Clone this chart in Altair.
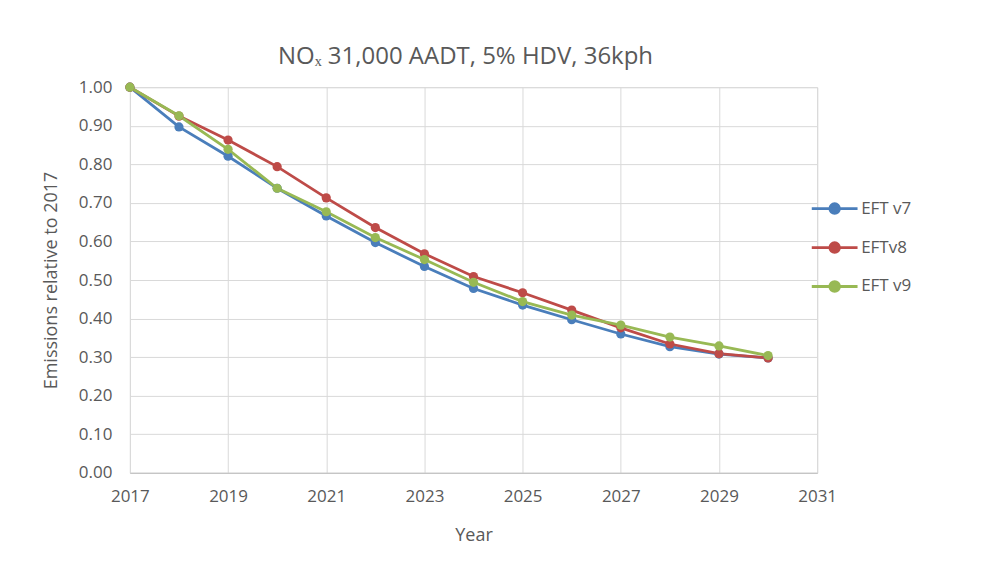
import altair as alt
import pandas as pd

years = list(range(2017, 2031))
eft_v7 = [1.00, 0.897, 0.821, 0.738, 0.666, 0.597, 0.535, 0.478, 0.435, 0.397, 0.360, 0.327, 0.308, 0.298]
eft_v8 = [1.00, 0.925, 0.863, 0.794, 0.713, 0.636, 0.568, 0.509, 0.467, 0.422, 0.376, 0.334, 0.309, 0.298]
eft_v9 = [1.00, 0.926, 0.839, 0.738, 0.677, 0.610, 0.553, 0.494, 0.444, 0.409, 0.383, 0.352, 0.329, 0.304]
series = ["EFT v7", "EFTv8", "EFT v9"]
colors = ["#4A7EBB", "#BE4B48", "#98B954"]
x_ticks = list(range(2017, 2032, 2))
y_ticks = [i / 10 for i in range(11)]

rows = []
for name, vals in zip(series, [eft_v7, eft_v8, eft_v9]):
    for y, v in zip(years, vals):
        rows.append({"Year": y, "Value": v, "Series": name})
df = pd.DataFrame(rows)

sym = "M-1,0H1M0.21,0A0.21,0.21,0,1,1,-0.21,0A0.21,0.21,0,1,1,0.21,0Z"

grey = "#595959"
font = "Open Sans"

chart = alt.Chart(df).mark_line(
    strokeWidth=2.8,
    point=alt.OverlayMarkDef(filled=True, size=85, opacity=1),
).encode(
    x=alt.X("Year:Q",
            scale=alt.Scale(domain=[2017, 2031], nice=False, zero=False),
            axis=alt.Axis(values=x_ticks, format="d", title="Year",
                          grid=True, gridColor="#D9D9D9", domainColor="#BFBFBF",
                          ticks=False, labelPadding=16, titlePadding=22, labelFlush=False,
                          labelFontSize=17, titleFontSize=18, labelColor=grey, titleColor=grey,
                          titleFontWeight="normal", labelFont=font, titleFont=font)),
    y=alt.Y("Value:Q",
            scale=alt.Scale(domain=[0, 1], nice=False),
            axis=alt.Axis(values=y_ticks, format=".2f",
                          title="Emissions relative to 2017",
                          grid=True, gridColor="#D9D9D9", domain=False,
                          ticks=False, labelPadding=18, titlePadding=18,
                          labelFontSize=17, titleFontSize=18, labelColor=grey, titleColor=grey,
                          titleFontWeight="normal", labelFont=font, titleFont=font)),
    color=alt.Color("Series:N",
                    scale=alt.Scale(domain=series, range=colors),
                    legend=alt.Legend(title=None, orient="none", legendX=681, legendY=97,
                                      symbolType=sym, symbolSize=2100, symbolStrokeWidth=2.8,
                                      rowPadding=4, labelFontSize=17, labelColor=grey,
                                      labelFont=font, labelOffset=2)),
    order=alt.Order("Year:Q"),
).properties(
    width=688,
    height=386,
    title=alt.TitleParams("NOₓ 31,000 AADT, 5% HDV, 36kph", fontSize=24, fontWeight="normal",
                          color=grey, font=font, anchor="middle", offset=9, dx=-8),
    autosize=alt.AutoSizeParams(type="none"),
    padding={"left": 122, "top": 79, "right": 170, "bottom": 90},
).configure_view(stroke=None).configure(background="white")

chart.save("out.html", embed_options={"renderer": "svg", "actions": False})
